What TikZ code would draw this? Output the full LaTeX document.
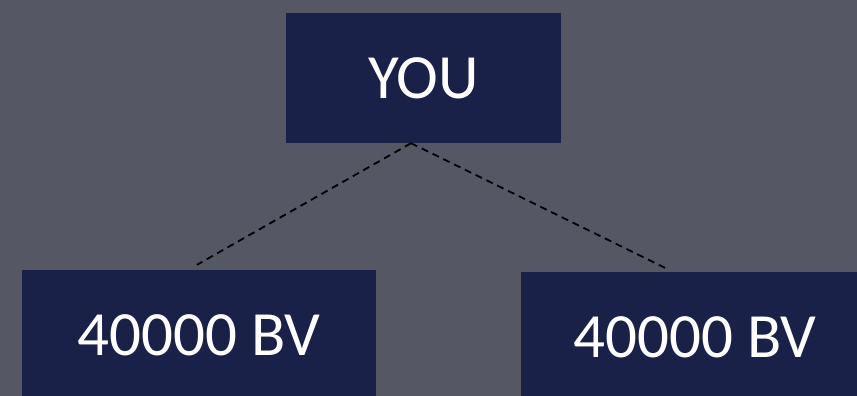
\documentclass[tikz,border=0pt]{standalone}
\usepackage{fontspec}
\setmainfont{Carlito}
\definecolor{bgc}{RGB}{85,87,101}
\definecolor{boxc}{RGB}{25,33,72}
\begin{document}
\begin{tikzpicture}[x=1pt,y=1pt,
  box/.style={rectangle,fill=boxc,text=white,inner sep=0pt,minimum height=130pt,font=\fontsize{63}{70}\selectfont},
  link/.style={draw=black,line width=1.8pt,dash pattern=on 7pt off 5pt}]
\useasboundingbox (0,0) rectangle (857,396);
\clip (0,0) rectangle (857,396);
\fill[bgc] (0,0) rectangle (857,396);
\node[box,minimum width=275pt] (you) at (423.5,318) {YOU};
\node[box,minimum width=354pt] (left) at (199,61) {40000 BV};
\node[box,minimum width=348pt] (right) at (695,59) {40000 BV};
\coordinate (t) at ([xshift=-12.5pt]you.south);
\coordinate (l) at ([xshift=-2pt,yshift=5pt]left.north);
\coordinate (r) at ([xshift=-26pt,yshift=2pt]right.north);
\draw[link] (t) -- (l);
\draw[link] (t) -- (r);
\end{tikzpicture}
\end{document}
